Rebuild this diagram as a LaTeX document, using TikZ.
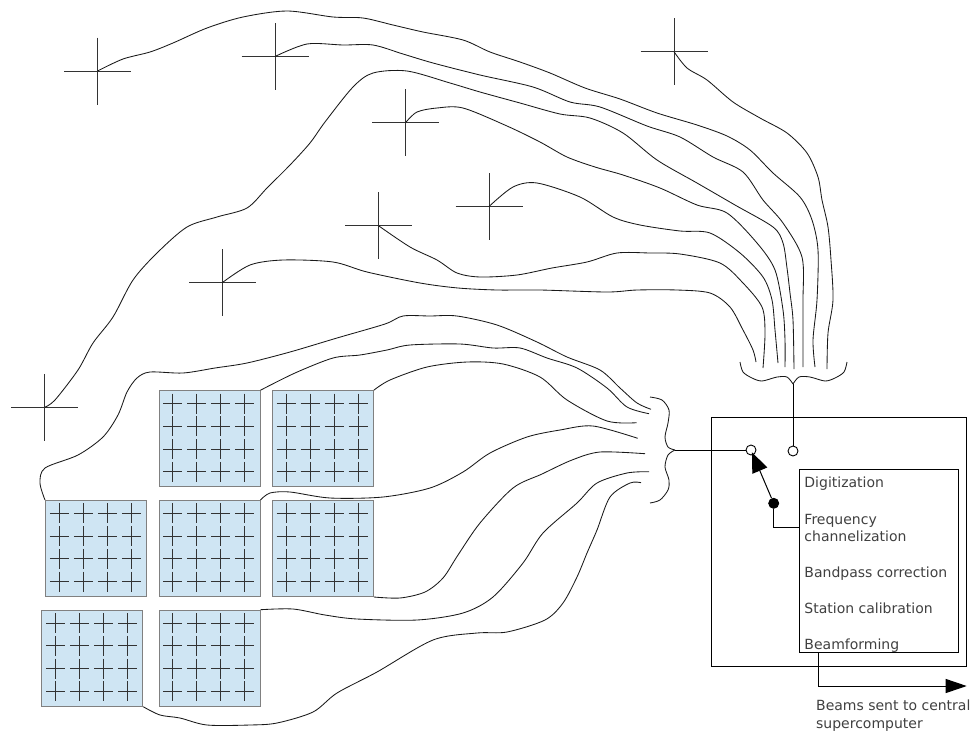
\documentclass[tikz,border=0pt]{standalone}
\usepackage{fontspec}
\setmainfont{DejaVu Sans}
\usetikzlibrary{arrows.meta, calc}
\definecolor{tileblue}{HTML}{CFE5F3}

\begin{document}
\begin{tikzpicture}[x=1pt, y=-1pt, line width=0.9pt,
    % --- styles ---
    wire/.style={line width=0.85pt, black!90},
    dipole/.style={line width=0.9pt, black!80},
    tile/.style={rectangle, draw=black!50, fill=tileblue, line width=1pt, minimum width=101pt, minimum height=96pt, inner sep=0pt},
    % dipoles printed on a tile
    tilecross/.style={line width=1pt, black!80},
    rack/.style={rectangle, draw=black, line width=1pt, inner sep=0pt},
    port/.style={circle, draw=black, fill=white, minimum size=10pt, inner sep=0pt, line width=0.9pt},
    pivot/.style={circle, draw=black, fill=black, minimum size=10pt, inner sep=0pt},
    steplabel/.style={anchor=base west, inner sep=0pt, text=black!75, font=\fontsize{14}{18}\selectfont}
]
    \useasboundingbox (0,0) rectangle (974,734);

    % =========================================
    % Single dipoles
    % =========================================
    \foreach \name/\px/\py in {ant1/97.5/71, ant2/275/56.5, ant3/405.7/122.5, ant4/489/206.5,
        ant5/378.5/225.7, ant6/222.5/282.5, ant7/674/51.7, ant8/44.7/407.3} {
        \coordinate (\name) at (\px,\py);
        \draw[dipole] (\px-33.5,\py) -- (\px+33.5,\py) (\px,\py-33.5) -- (\px,\py+33.5);
    }

    % =========================================
    % Dipole tiles
    % =========================================
    \foreach \name/\px/\py in {s1/209.5/438.7, s2/322.8/438.7, s3/96/548.5, s4/209.5/548.5,
        s5/322.8/548.5, s6/92.2/658.2, s7/209.5/658.2} {
        \node[tile] (\name) at (\px,\py) {};
        \foreach \i in {0,1,2,3} \foreach \j in {0,1,2,3} {
            \draw[tilecross] ($(\name.north west)+(14.3+24*\i-9.5,13.3+22.8*\j)$) -- ++(19,0);
            \draw[tilecross] ($(\name.north west)+(14.3+24*\i,13.3+22.8*\j-10)$) -- ++(0,20);
        }
    }

    % =========================================
    % Free wire ends next to the two braces
    % =========================================
    \foreach \name/\px/\py in {t1/756/362, t2/763/368, t3/778/363, t4/785/367, t5/794/369,
        t6/803/367, t7/815/367, t8/827/369, m1/651/409.3, m2/649/413.7, m3/636.7/422.7,
        m4/637.7/438.3, m5/645/453.7, m6/649/471.7, m7/641/482.7}
        \coordinate (\name) at (\px,\py);

    % --- single dipoles -> top brace ---
    \draw[wire] plot[smooth] coordinates {(ant7) (687,68) (707,80) (733,102) (760,118) (787,133) (807,153) (818,177) (822,200) (828,227) (831,260) (833,300) (828,333) (t8)};
    \draw[wire] plot[smooth] coordinates {(ant1) (123,59) (150,52) (173,43) (207,28) (243,17) (287,11) (333,17) (363,18) (393,25) (423,32) (463,40) (490,52) (520,62) (550,73) (585,88) (620,99) (657,113) (697,125) (727,136) (750,150) (773,173) (800,197) (812,220) (818,250) (817,300) (813,340) (t7)};
    \draw[wire] plot[smooth] coordinates {(ant2) (307,44) (343,45) (373,45) (403,54) (433,63) (480,75) (533,87) (570,102) (600,107) (647,126) (680,137) (713,157) (743,172) (763,200) (783,223) (802,257) (803,300) (803,340) (t6)};
    \draw[wire] plot[smooth] coordinates {(ant8) (55,400) (78,370) (93,343) (113,317) (133,280) (157,253) (187,227) (217,217) (247,208) (267,188) (290,165) (310,143) (325,122) (353,87) (373,73) (407,71) (450,83) (480,92) (520,103) (560,114) (590,118) (623,133) (657,160) (697,183) (735,205) (773,227) (783,243) (787,268) (790,293) (793,320) (t5)};
    \draw[wire] plot[smooth] coordinates {(ant3) (417,112) (437,108) (463,108) (507,126) (540,142) (567,157) (595,167) (623,175) (660,188) (697,205) (727,213) (757,243) (775,270) (783,310) (785,340) (t4)};
    \draw[wire] plot[smooth] coordinates {(ant4) (513,187) (537,183) (580,197) (613,217) (640,225) (680,231) (710,233) (740,253) (763,277) (772,300) (775,330) (t3)};
    \draw[wire] plot[smooth] coordinates {(ant5) (410,247) (437,260) (457,273) (480,277) (517,275) (552,268) (587,262) (617,253) (650,253) (680,254) (720,263) (743,283) (762,307) (765,333) (t2)};
    \draw[wire] plot[smooth] coordinates {(ant6) (250,265) (283,260) (333,262) (367,272) (420,283) (458,288) (497,290) (540,290) (607,292) (637,290) (677,290) (710,293) (730,307) (743,330) (753,350) (t1)};

    % --- tiles -> left brace ---
    \draw[wire] plot[smooth] coordinates {(s3.north west) (40,483) (45,468) (78,455) (103,437) (118,415) (127,392) (137,378) (150,372) (183,373) (215,368) (247,363) (290,352) (337,338) (385,324) (403,316) (430,316) (457,316) (497,325) (537,342) (567,357) (600,370) (620,388) (637,403) (m1)};
    \draw[wire] plot[smooth] coordinates {(s1.north east) (295,373) (333,358) (360,355) (387,350) (410,345) (460,344) (493,348) (520,348) (547,358) (577,368) (607,388) (627,407) (m2)};
    \draw[wire] plot[smooth] coordinates {(s2.north east) (390,380) (427,367) (467,362) (503,364) (540,377) (567,400) (607,421) (m3)};
    \draw[wire] plot[smooth] coordinates {(s4.north east) (270,493) (290,492) (330,498) (383,497) (430,488) (463,472) (490,453) (527,437) (560,430) (593,426) (m4)};
    \draw[wire] plot[smooth] coordinates {(s5.south east) (400,598) (425,592) (443,578) (458,555) (480,523) (513,488) (542,474) (572,460) (600,452) (m5)};
    \draw[wire] plot[smooth] coordinates {(s7.north east) (293,609) (325,615) (357,619) (417,620) (463,613) (493,597) (523,563) (543,533) (577,503) (597,483) (627,473) (m6)};
    \draw[wire] plot[smooth] coordinates {(s6.south east) (160,715) (180,718) (207,725) (250,725) (277,723) (313,712) (337,693) (377,672) (433,640) (477,633) (507,632) (545,620) (563,603) (577,577) (587,553) (597,530) (610,497) (630,483) (m7)};

    % =========================================
    % Braces
    % =========================================
    \coordinate (bracetop) at (793,384);
    \coordinate (braceleft) at (675,450);
    \draw[wire] plot[smooth] coordinates {(740,362) (743,372) (752,378) (762,381) (777,377) (787,377) (bracetop)};
    \draw[wire] plot[smooth] coordinates {(bracetop) (799,377) (810,377) (825,381) (835,378) (844,372) (847,362)};
    \draw[wire] plot[smooth] coordinates {(650,397) (662,400) (669,410) (668,423) (665,437) (668,447) (braceleft)};
    \draw[wire] plot[smooth] coordinates {(braceleft) (668,455) (665,467) (669,480) (668,490) (660,500) (650,503)};

    % =========================================
    % Station rack
    % =========================================
    \node[rack, minimum width=255pt, minimum height=249pt] (station) at (839,542) {};
    \node[rack, minimum width=158.5pt, minimum height=183pt] (chain) at (878.75,561) {};

    \node[steplabel] (digit) at (804,487.7) {Digitization};
    \node[steplabel] (freq) at (804,524) {Frequency};
    \node[steplabel] (chan) at (804,541.7) {channelization};
    \node[steplabel] (band) at (804,577) {Bandpass correction};
    \node[steplabel] (calib) at (804,613) {Station calibration};
    \node[steplabel] (beam) at (804,649) {Beamforming};

    \node[port] (portleft) at (751,450) {};
    \node[port] (porttop) at (793,451) {};
    \node[pivot] (switch) at (773.7,503.3) {};

    \draw (braceleft) -- (portleft);
    \draw (bracetop) -- (porttop);
    \draw[-{Triangle[length=20pt,width=16pt]}, line width=1pt, shorten >=-3pt] (switch) -- (portleft);
    \draw[line width=1pt] (switch.south) |- (chain.west |- 0,527);

    % --- output ---
    \coordinate (beamout) at (966.7,686);
    \draw[-{Triangle[length=21pt,width=14pt]}, line width=1pt] (818.7,652.5) |- (beamout);
    \node[steplabel, anchor=west, align=left] (sent) at (815.7,716) {Beams sent to central\\supercomputer};

\end{tikzpicture}
\end{document}
